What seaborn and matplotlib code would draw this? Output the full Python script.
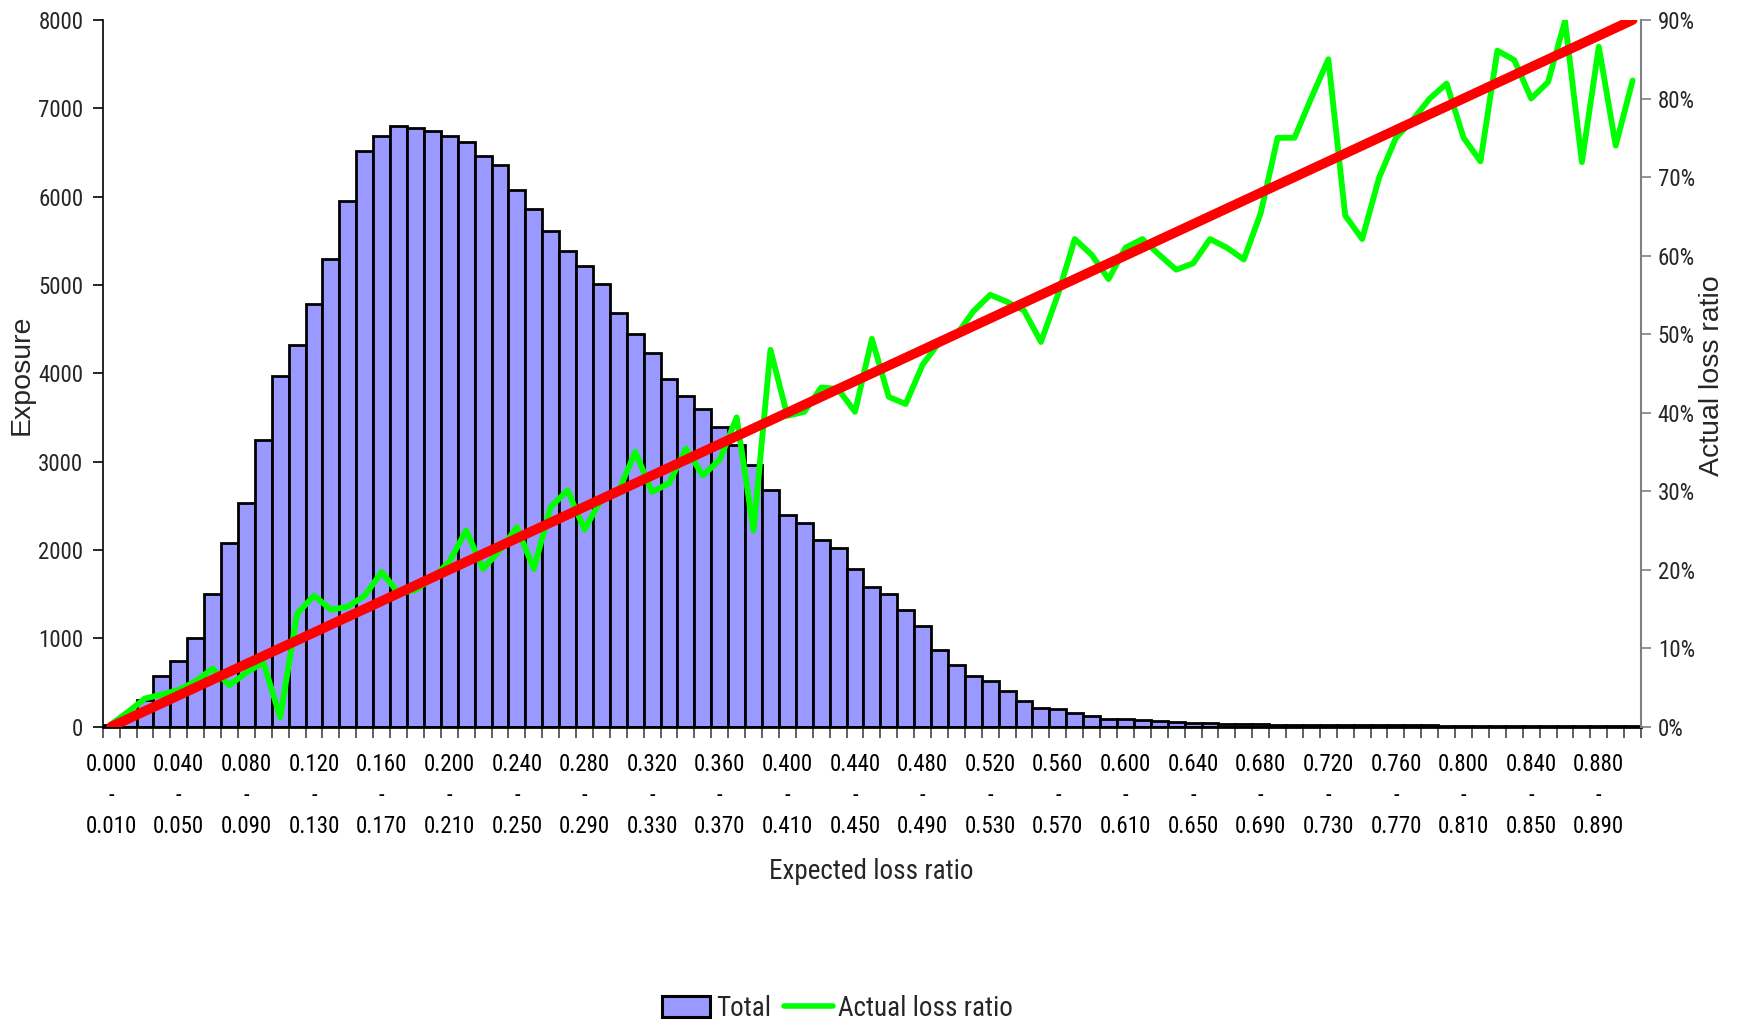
import numpy as np
import pandas as pd
import matplotlib
matplotlib.use("Agg")
import matplotlib.pyplot as plt
import seaborn as sns
from matplotlib import font_manager as fm
from matplotlib.ticker import FixedLocator, PercentFormatter
from matplotlib.patches import Patch
from matplotlib.lines import Line2D

# ---------------- data ----------------
bin_start = [0.00, 0.01, 0.02, 0.03, 0.04, 0.05, 0.06, 0.07, 0.08, 0.09,
             0.10, 0.11, 0.12, 0.13, 0.14, 0.15, 0.16, 0.17, 0.18, 0.19,
             0.20, 0.21, 0.22, 0.23, 0.24, 0.25, 0.26, 0.27, 0.28, 0.29,
             0.30, 0.31, 0.32, 0.33, 0.34, 0.35, 0.36, 0.37, 0.38, 0.39,
             0.40, 0.41, 0.42, 0.43, 0.44, 0.45, 0.46, 0.47, 0.48, 0.49,
             0.50, 0.51, 0.52, 0.53, 0.54, 0.55, 0.56, 0.57, 0.58, 0.59,
             0.60, 0.61, 0.62, 0.63, 0.64, 0.65, 0.66, 0.67, 0.68, 0.69,
             0.70, 0.71, 0.72, 0.73, 0.74, 0.75, 0.76, 0.77, 0.78, 0.79,
             0.80, 0.81, 0.82, 0.83, 0.84, 0.85, 0.86, 0.87, 0.88, 0.89,
             0.90]

exposure = [15, 120, 300, 576, 745, 1000, 1497, 2080, 2529, 3246,
            3968, 4321, 4786, 5294, 5952, 6513, 6684, 6802, 6781, 6738,
            6684, 6615, 6465, 6353, 6075, 5866, 5615, 5385, 5214, 5011,
            4684, 4449, 4235, 3936, 3749, 3594, 3396, 3193, 2957, 2674,
            2396, 2305, 2112, 2021, 1786, 1578, 1508, 1326, 1144, 866,
            695, 578, 519, 406, 294, 214, 203, 160, 118, 85,
            82, 78, 65, 55, 40, 40, 35, 35, 33, 25,
            25, 24, 22, 20, 20, 19, 17, 17, 17, 13,
            13, 12, 12, 11, 8, 8, 7, 7, 5, 5,
            4]

actual_pct = [0.3, 1.9, 3.6, 4.1, 4.7, 5.8, 7.4, 5.3, 6.9, 8.2,
              1.2, 14.4, 16.7, 14.9, 15.3, 16.7, 19.7, 17.0, 17.4, 18.9,
              21.0, 25.0, 20.1, 22.5, 25.4, 20.1, 28.0, 30.1, 25.1, 29.0,
              29.9, 35.0, 29.9, 31.0, 35.4, 32.0, 34.0, 39.4, 25.0, 48.0,
              39.6, 40.1, 43.2, 43.0, 40.1, 49.4, 42.0, 41.1, 46.1, 49.0,
              49.9, 52.9, 55.0, 54.1, 53.0, 49.0, 55.0, 62.1, 60.1, 57.0,
              61.0, 62.1, 60.1, 58.2, 59.0, 62.1, 61.0, 59.5, 65.4, 75.0,
              75.0, 80.1, 85.0, 65.1, 62.1, 69.9, 75.0, 77.3, 80.0, 81.9,
              75.0, 72.0, 86.1, 84.9, 80.0, 82.1, 89.9, 71.9, 86.6, 74.0,
              82.3]

expected = bin_start  # reference line: expected loss ratio of each band

# ---------------- style ----------------
sns.set_theme(style="ticks")
names = {f.name for f in fm.fontManager.ttflist}
NARROW = "Liberation Sans"
for cand in ["Liberation Sans Narrow", "Arial Narrow", "Roboto Condensed",
             "Open Sans Condensed"]:
    if cand in names:
        NARROW = cand
        break
REG = "Liberation Sans"
plt.rcParams["font.family"] = [NARROW, "DejaVu Sans"]

BAR = "#9999FF"
GREEN = "#00FF00"
RED = "#FF0000"

n = len(bin_start)
idx = list(range(n))
df = pd.DataFrame({"bin": idx, "exposure": exposure,
                   "actual": [v / 100 for v in actual_pct],
                   "expected": expected})

fig = plt.figure(figsize=(17.41, 10.25), dpi=100)
ax = fig.add_axes([0.059, 0.291, 0.8836, 0.6895])

sns.barplot(data=df, x="bin", y="exposure", color=BAR, saturation=1,
            width=1.0, edgecolor="black", linewidth=2.0, ax=ax)
if ax.get_legend() is not None:
    ax.get_legend().remove()

ax.set_xlim(-0.5, n - 0.5)
ax.set_ylim(0, 8000)
ax.set_yticks(range(0, 8001, 1000))
ax.set_yticklabels([str(v) for v in range(0, 8001, 1000)])

lab_pos = list(range(0, n - 1, 4))
lab_txt = [f"{bin_start[i]:.3f}\n-\n{bin_start[i] + 0.01:.3f}" for i in lab_pos]
ax.set_xticks(lab_pos)
ax.set_xticklabels(lab_txt, linespacing=1.45)
ax.xaxis.set_minor_locator(FixedLocator(np.arange(-0.5, n, 1.0)))
ax.tick_params(axis="x", which="major", length=0, pad=19, labelsize=16.5,
               colors="black")
ax.tick_params(axis="x", which="minor", length=8, width=1.2,
               color="#444444", direction="out")
ax.tick_params(axis="y", length=7, width=1.2, direction="out",
               labelsize=16.5, color="black", pad=7)

for s in ["top", "right"]:
    ax.spines[s].set_visible(False)
ax.spines["left"].set_color("black")
ax.spines["left"].set_linewidth(1.2)
ax.spines["bottom"].set_color("black")
ax.spines["bottom"].set_linewidth(2.0)

ax.set_xlabel("Expected loss ratio", fontsize=19.5)
ax.xaxis.set_label_coords(0.5003, 0.150, transform=fig.transFigure)
ax.xaxis.label.set_va("center")
ax.set_ylabel("Exposure", fontsize=20.5, family=REG)
ax.yaxis.set_label_coords(0.0125, 0.634, transform=fig.transFigure)
ax.yaxis.label.set_va("center")

ax2 = ax.twinx()
sns.lineplot(data=df, x="bin", y="actual", color=GREEN, linewidth=4.2,
             ax=ax2, legend=False)
sns.lineplot(data=df, x="bin", y="expected", color=RED, linewidth=7,
             ax=ax2, legend=False, solid_capstyle="round")
ax2.set_xlim(-0.5, n - 0.5)
ax2.set_ylim(0, 0.9)
ax2.set_yticks([i / 10 for i in range(10)])
ax2.yaxis.set_major_formatter(PercentFormatter(1.0, decimals=0))
ax2.tick_params(axis="y", length=7, width=1.2, direction="out",
                labelsize=16.5, color="#808080", pad=5)
for s in ["top", "left", "bottom"]:
    ax2.spines[s].set_visible(False)
ax2.spines["right"].set_color("#808080")
ax2.spines["right"].set_linewidth(1.5)
ax2.set_ylabel("Actual loss ratio", fontsize=20.5, family=REG)
ax2.yaxis.set_label_coords(0.9835, 0.634, transform=fig.transFigure)
ax2.yaxis.label.set_va("center")
ax2.set_xlabel("")

handles = [Patch(facecolor=BAR, edgecolor="black", linewidth=2.2),
           Line2D([], [], color=GREEN, linewidth=4)]
fig.legend(handles=handles, labels=["Total", "Actual loss ratio"],
           loc="center", bbox_to_anchor=(0.481, 0.016), ncol=2,
           frameon=False, fontsize=19.5, handlelength=1.8, handleheight=0.8,
           handletextpad=0.2, columnspacing=0.5, borderpad=0.1)

fig.savefig("out.png", dpi=100)
